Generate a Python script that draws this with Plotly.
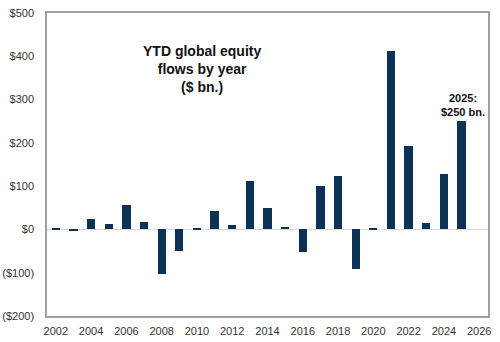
import plotly.graph_objects as go

years = list(range(2002, 2026))
flows = [3, -3, 24, 12, 57, 18, -104, -50, 3, 43, 11, 112, 49, 5, -51, 101, 123, -91, 3, 413, 193, 16, 128, 250]
y_ticks = [-200, -100, 0, 100, 200, 300, 400, 500]
y_tick_labels = ["($200)", "($100)", "$0", "$100", "$200", "$300", "$400", "$500"]
x_ticks = list(range(2002, 2027, 2))
title_text = "YTD global equity<br>flows by year<br>($ bn.)"
note_text = "2025:<br>$250 bn."

fig = go.Figure(go.Bar(x=years, y=flows, marker=dict(color="#0c3255", line=dict(width=0)), width=0.47))

fig.update_layout(
    width=500, height=342,
    margin=dict(l=47, r=12, t=13, b=26),
    paper_bgcolor="white", plot_bgcolor="white",
    font=dict(family="Liberation Sans, Arial, sans-serif", size=11, color="#333333"),
    showlegend=False,
    bargap=0,
)
fig.update_xaxes(
    range=[2001.5, 2026.5], tickvals=x_ticks, ticktext=[str(v) for v in x_ticks],
    showgrid=False, showline=True, linecolor="#a0a0a0", linewidth=1.5, mirror=True,
    ticks="", zeroline=False, tickfont=dict(size=11, color="#333333"), ticklabelstandoff=4,
    automargin=False,
)
fig.update_yaxes(
    range=[-200, 500], tickvals=y_ticks, ticktext=y_tick_labels,
    showgrid=False, showline=True, linecolor="#a0a0a0", linewidth=1.5, mirror=True,
    ticks="", zeroline=True, zerolinecolor="#d8d8d8", zerolinewidth=1,
    tickfont=dict(size=11, color="#333333"), ticklabelstandoff=9,
    automargin=False,
)
fig.add_annotation(
    x=2010.3, y=370, xref="x", yref="y", text=title_text, showarrow=False,
    font=dict(size=14, color="#111111", family="Liberation Sans, Arial, sans-serif"),
    align="center", yanchor="middle",
)
fig.add_annotation(
    x=2025.1, y=252, xref="x", yref="y", text=note_text, showarrow=False,
    font=dict(size=11, color="#111111", family="Liberation Sans, Arial, sans-serif"),
    align="center", yanchor="bottom",
)
fig.update_annotations(font_weight="bold")
fig.write_html("out.html")
